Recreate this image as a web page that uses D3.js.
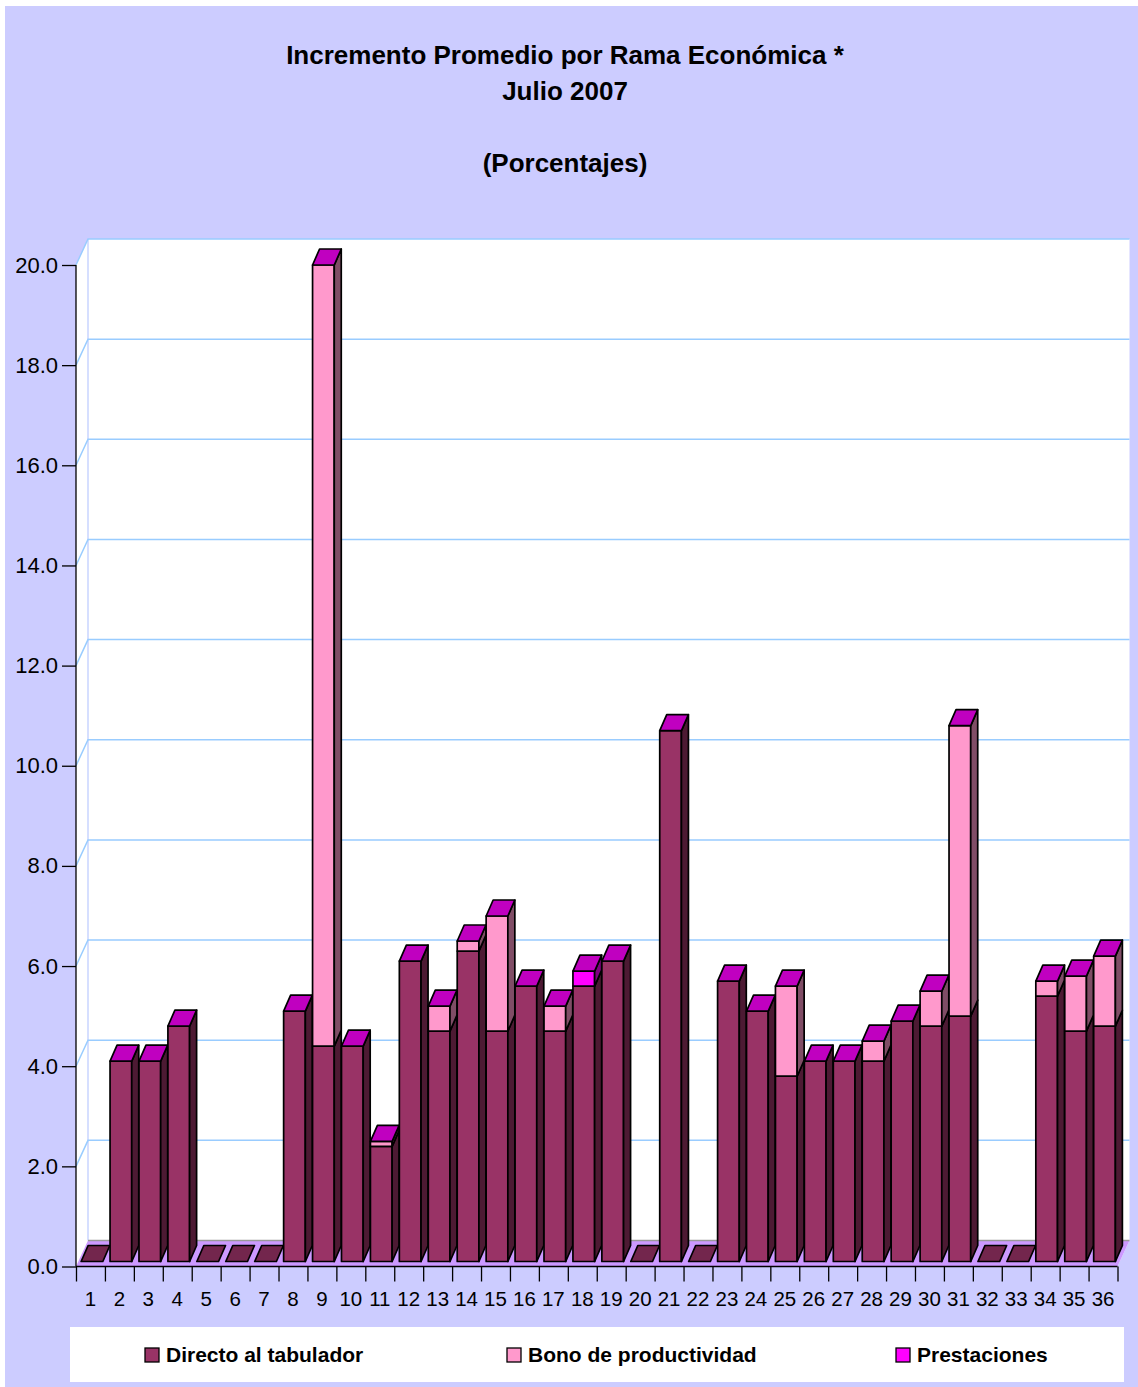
<!DOCTYPE html>
<html>
<head>
<meta charset="utf-8">
<script src="https://cdn.jsdelivr.net/npm/d3@7"></script>
<style>
  body { margin: 0; background: #ffffff; }
  text { font-family: "Liberation Sans", Arial, sans-serif; }
</style>
</head>
<body>
<svg id="svg"></svg>
<script>
const categories = d3.range(1, 37).map(String);
const directo = [0, 4.0, 4.0, 4.7, 0, 0, 0, 5.0, 4.3, 4.3, 2.3, 6.0, 4.6, 6.2, 4.6, 5.5, 4.6, 5.5,
    6.0, 0, 10.6, 0, 5.6, 5.0, 3.7, 4.0, 4.0, 4.0, 4.8, 4.7, 4.9, 0, 0, 5.3, 4.6, 4.7];
const bono = [0, 0, 0, 0, 0, 0, 0, 0, 15.6, 0, 0.1, 0, 0.5, 0.2, 2.3, 0, 0.5, 0,
    0, 0, 0, 0, 0, 0, 1.8, 0, 0, 0.4, 0, 0.7, 5.8, 0, 0, 0.3, 1.1, 1.4];
const prestaciones = [0, 0, 0, 0, 0, 0, 0, 0, 0, 0, 0, 0, 0, 0, 0, 0, 0, 0.3,
    0, 0, 0, 0, 0, 0, 0, 0, 0, 0, 0, 0, 0, 0, 0, 0, 0, 0];
const seriesNames = ["Directo al tabulador", "Bono de productividad", "Prestaciones"];
const yTicks = d3.range(0, 21, 2);
const titleLines = ["Incremento Promedio por Rama Económica *", "Julio 2007", "(Porcentajes)"];

// face colours per series: front, side, top
const colors = [
    { front: "#993366", side: "#4d1a33", top: "#73264d" },
    { front: "#ff99cc", side: "#804d66", top: "#c000c0" },
    { front: "#ff00ff", side: "#800080", top: "#c000c0" }
];

const W = 1138, H = 1387;
const svg = d3.select("#svg").attr("width", W).attr("height", H);

svg.append("rect").attr("x", 5).attr("y", 6).attr("width", W - 5).attr("height", H - 6)
    .attr("fill", "#ccccff");

// geometry
const left = 76, right = 1117.5, bottom = 1266.5;
const wallDx = 12, wallDy = -26;    // depth of the walls
const barOx = 1.5, barOy = -5;      // bar front plane offset
const barDx = 7, barDy = -16;       // bar depth

const y = d3.scaleLinear().domain([0, 20]).range([bottom, 265]);
const x = d3.scaleBand().domain(categories).range([left, right])
    .paddingInner(0.25).paddingOuter(0.125);
const xb = d3.scaleLinear().domain([0, categories.length]).range([left, right]);

// walls
const top20 = y(20);
svg.append("polygon")
    .attr("points", [[left, top20], [left + wallDx, top20 + wallDy], [right + wallDx, top20 + wallDy],
        [right + wallDx, bottom + wallDy], [right, bottom], [left, bottom]].join(" "))
    .attr("fill", "#ffffff");
svg.append("line")
    .attr("x1", left + wallDx).attr("x2", left + wallDx)
    .attr("y1", top20 + wallDy).attr("y2", bottom + wallDy)
    .attr("stroke", "#c8d4ff").attr("stroke-width", 1.5);

// gridlines
const grid = svg.append("g").attr("stroke", "#99ccff").attr("stroke-width", 1.5).attr("fill", "none");
yTicks.filter(v => v > 0).forEach(v => {
    grid.append("path")
        .attr("d", `M${left},${y(v)}L${left + wallDx},${y(v) + wallDy}L${right + wallDx},${y(v) + wallDy}`);
});

// floor
svg.append("polygon")
    .attr("points", [[left, bottom], [left + wallDx, bottom + wallDy], [right + wallDx, bottom + wallDy],
        [right, bottom]].join(" "))
    .attr("fill", "#cc99ff");
svg.append("line")
    .attr("x1", left + wallDx).attr("x2", right + wallDx)
    .attr("y1", bottom + wallDy).attr("y2", bottom + wallDy)
    .attr("stroke", "#9a9a9a").attr("stroke-width", 1.5);

// bars
const bars = svg.append("g").attr("stroke", "#000").attr("stroke-width", 1.7).attr("stroke-linejoin", "round");
const seriesValues = [directo, bono, prestaciones];

categories.forEach((c, i) => {
    const x0 = x(c) + barOx, x1 = x0 + x.bandwidth();
    const total = directo[i] + bono[i] + prestaciones[i];
    if (total === 0) {
        const yb = y(0) + barOy;
        bars.append("polygon")
            .attr("points", [[x0, yb], [x1, yb], [x1 + barDx, yb + barDy], [x0 + barDx, yb + barDy]].join(" "))
            .attr("fill", colors[0].top);
        return;
    }
    let base = 0;
    seriesValues.forEach((vals, s) => {
        const v = vals[i];
        if (v <= 0) return;
        const yb = y(base) + barOy, yt = y(base + v) + barOy;
        bars.append("rect")
            .attr("x", x0).attr("y", yt).attr("width", x1 - x0).attr("height", yb - yt)
            .attr("fill", colors[s].front);
        bars.append("polygon")
            .attr("points", [[x1, yb], [x1 + barDx, yb + barDy], [x1 + barDx, yt + barDy], [x1, yt]].join(" "))
            .attr("fill", colors[s].side);
        base += v;
    });
    const yt = y(base) + barOy;
    bars.append("polygon")
        .attr("points", [[x0, yt], [x1, yt], [x1 + barDx, yt + barDy], [x0 + barDx, yt + barDy]].join(" "))
        .attr("fill", colors[2].top);
});

// axes
const yAxis = svg.append("g")
    .attr("transform", `translate(${left},0)`)
    .call(d3.axisLeft(y).tickValues(yTicks).tickFormat(d3.format(".1f")).tickSize(14).tickPadding(4));
yAxis.select(".domain").attr("d", `M0,${y(20)}V${bottom}`).attr("stroke", "#000").attr("stroke-width", 1.3);
yAxis.selectAll(".tick line").attr("stroke", "#000").attr("stroke-width", 1.3);
yAxis.selectAll("text").attr("font-size", 22).attr("fill", "#000")
    .attr("font-family", "'Liberation Sans', Arial, sans-serif");

const xTicks = svg.append("g")
    .attr("transform", `translate(0,${bottom})`)
    .call(d3.axisBottom(xb).tickValues(d3.range(0, categories.length + 1)).tickFormat("").tickSize(15));
xTicks.select(".domain").attr("d", `M${left},0H${right}`).attr("stroke", "#000").attr("stroke-width", 1.3);
xTicks.selectAll(".tick line").attr("stroke", "#000").attr("stroke-width", 1.3);

const xLabels = svg.append("g")
    .attr("transform", `translate(0,${bottom})`)
    .call(d3.axisBottom(x).tickSize(0).tickPadding(25));
xLabels.select(".domain").remove();
xLabels.selectAll("text").attr("font-size", 20.5).attr("fill", "#000")
    .attr("font-family", "'Liberation Sans', Arial, sans-serif");

// title
const titleY = [64, 100, 172];
svg.append("g").selectAll("text").data(titleLines).join("text")
    .attr("x", 565).attr("y", (d, i) => titleY[i])
    .attr("text-anchor", "middle").attr("font-weight", "bold").attr("font-size", 26)
    .text(d => d);

// legend
svg.append("rect").attr("x", 70).attr("y", 1327).attr("width", 1054).attr("height", 55)
    .attr("fill", "#ffffff");
const legendX = [145, 507, 896];
const legend = svg.append("g").selectAll("g").data(seriesNames).join("g")
    .attr("transform", (d, i) => `translate(${legendX[i]},1348)`);
legend.append("rect").attr("width", 14).attr("height", 14)
    .attr("fill", (d, i) => colors[i].front).attr("stroke", "#000").attr("stroke-width", 1.3);
legend.append("text").attr("x", 21).attr("y", 14)
    .attr("font-size", 21).attr("font-weight", "bold")
    .text(d => d);
</script>
</body>
</html>
